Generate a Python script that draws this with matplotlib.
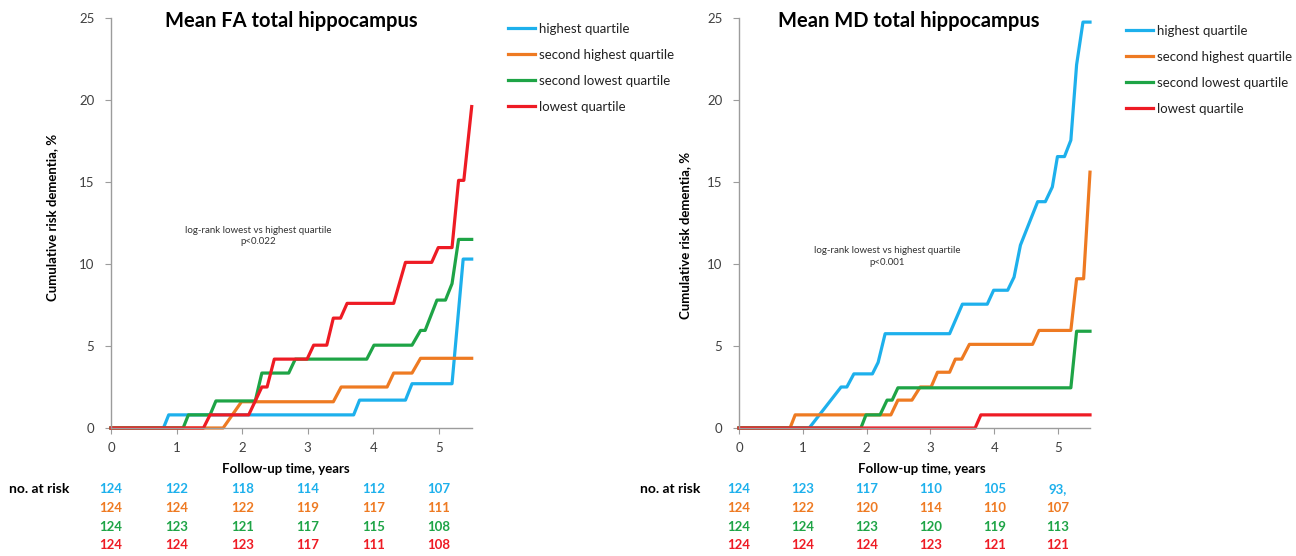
#!/usr/bin/env python3
"""Cumulative dementia risk by quartile of hippocampal FA / MD (two panels)."""

import matplotlib

matplotlib.use("Agg")
import matplotlib.pyplot as plt
from matplotlib import transforms
from matplotlib.lines import Line2D

W, H = 1296, 556
plt.rcParams["font.family"] = ["Lato", "DejaVu Sans"]

GROUPS = ["highest quartile", "second highest quartile", "second lowest quartile", "lowest quartile"]
COLORS = ["#1db0ec", "#ee7a22", "#1ea446", "#ee1b24"]

# --- Mean FA: follow-up time (years) / cumulative risk (%) per quartile
fa_highest_t = [0, 0.80, 0.88, 3.70, 3.79, 4.49, 4.59, 5.20, 5.37, 5.50]
fa_highest_y = [0, 0, 0.8, 0.8, 1.7, 1.7, 2.7, 2.7, 10.3, 10.3]
fa_second_high_t = [0, 1.71, 1.99, 3.39, 3.51, 4.21, 4.31, 4.59, 4.72, 5.50]
fa_second_high_y = [0, 0, 1.6, 1.6, 2.5, 2.5, 3.35, 3.35, 4.25, 4.25]
fa_second_low_t = [0, 1.10, 1.18, 1.51, 1.60, 2.20, 2.30, 2.71, 2.81, 3.90, 4.01,
                   4.59, 4.72, 4.79, 4.97, 5.10, 5.20, 5.30, 5.50]
fa_second_low_y = [0, 0, 0.8, 0.8, 1.65, 1.65, 3.35, 3.35, 4.2, 4.2, 5.05,
                   5.05, 5.95, 5.95, 7.8, 7.8, 8.8, 11.5, 11.5]
fa_lowest_t = [0, 1.41, 1.51, 2.10, 2.30, 2.38, 2.49, 2.99, 3.09, 3.29, 3.39,
               3.50, 3.60, 4.31, 4.49, 4.89, 4.99, 5.20, 5.30, 5.38, 5.50]
fa_lowest_y = [0, 0, 0.8, 0.8, 2.5, 2.5, 4.2, 4.2, 5.05, 5.05, 6.7,
               6.7, 7.6, 7.6, 10.1, 10.1, 11.0, 11.0, 15.1, 15.1, 19.6]

# --- Mean MD
md_highest_t = [0, 1.10, 1.60, 1.69, 1.80, 2.09, 2.18, 2.29, 3.30, 3.50, 3.89, 3.99,
                4.21, 4.31, 4.41, 4.68, 4.80, 4.91, 4.99, 5.10, 5.20, 5.29, 5.39, 5.50]
md_highest_y = [0, 0, 2.5, 2.5, 3.3, 3.3, 4.0, 5.75, 5.75, 7.55, 7.55, 8.4,
                8.4, 9.2, 11.15, 13.8, 13.8, 14.7, 16.55, 16.55, 17.55, 22.15, 24.75, 24.75]
md_second_high_t = [0, 0.80, 0.88, 2.38, 2.49, 2.71, 2.84, 3.01, 3.11, 3.30, 3.39,
                    3.49, 3.61, 4.60, 4.70, 5.20, 5.29, 5.40, 5.50]
md_second_high_y = [0, 0, 0.8, 0.8, 1.7, 1.7, 2.5, 2.5, 3.4, 3.4, 4.2,
                    4.2, 5.1, 5.1, 5.95, 5.95, 9.1, 9.1, 15.6]
md_second_low_t = [0, 1.91, 1.99, 2.21, 2.32, 2.40, 2.49, 5.20, 5.29, 5.50]
md_second_low_y = [0, 0, 0.8, 0.8, 1.7, 1.7, 2.45, 2.45, 5.9, 5.9]
md_lowest_t = [0, 3.70, 3.79, 5.50]
md_lowest_y = [0, 0, 0.8, 0.8]

# --- numbers at risk at years 0..5
YEARS = [0, 1, 2, 3, 4, 5]
fa_at_risk = [
    ["124", "122", "118", "114", "112", "107"],
    ["124", "124", "122", "119", "117", "111"],
    ["124", "123", "121", "117", "115", "108"],
    ["124", "124", "123", "117", "111", "108"],
]
md_at_risk = [
    ["124", "123", "117", "110", "105", "93,"],
    ["124", "122", "120", "114", "110", "107"],
    ["124", "124", "123", "120", "119", "113"],
    ["124", "124", "124", "123", "121", "121"],
]

PANELS = [
    {
        "title": "Mean FA total hippocampus",
        "curves": [(fa_highest_t, fa_highest_y), (fa_second_high_t, fa_second_high_y),
                   (fa_second_low_t, fa_second_low_y), (fa_lowest_t, fa_lowest_y)],
        "at_risk": fa_at_risk,
        "note": "log-rank lowest vs highest quartile\np<0.022",
        "note_xy": (2.25, 11.7),
        "rect_px": (111, 471.7),
        "title_px": (291, 21),
        "ylabel_px": (52, 217),
        "xlabel_px": (286, 469),
        "risk_label_px": 9,
        "legend_px": (508, 23),
    },
    {
        "title": "Mean MD total hippocampus",
        "curves": [(md_highest_t, md_highest_y), (md_second_high_t, md_second_high_y),
                   (md_second_low_t, md_second_low_y), (md_lowest_t, md_lowest_y)],
        "at_risk": md_at_risk,
        "note": "log-rank lowest vs highest quartile\np<0.001",
        "note_xy": (2.32, 10.45),
        "rect_px": (739, 1090),
        "title_px": (909, 21),
        "ylabel_px": (685, 235),
        "xlabel_px": (922, 469),
        "risk_label_px": 640,
        "legend_px": (1126, 25),
    },
]

RISK_ROWS_PX = [489.3, 508.3, 526.7, 545.3]


def fx(px):
    return px / W


def fy(py):
    return 1 - py / H


def draw_panel(fig, p):
    x0, x1 = p["rect_px"]
    ax = fig.add_axes([fx(x0), fy(428), (x1 - x0) / W, 410 / H])
    for (t, y), color in zip(p["curves"], COLORS):
        ax.plot(t, y, color=color, linewidth=2.3, clip_on=False)

    ax.set_xlim(0, 5.5)
    ax.set_ylim(0, 25)
    ax.set_xticks(YEARS)
    ax.set_yticks(range(0, 26, 5))
    for side in ("top", "right"):
        ax.spines[side].set_visible(False)
    for side in ("left", "bottom"):
        ax.spines[side].set_color("#9c9c9c")
        ax.spines[side].set_linewidth(1.0)
    ax.tick_params(direction="out", length=4, width=0.8, color="#9c9c9c",
                   labelsize=9.5, labelcolor="#404040")
    ax.tick_params(axis="x", pad=6)
    ax.tick_params(axis="y", pad=8)

    ax.text(*p["note_xy"], p["note"], ha="center", va="center", fontsize=7,
            color="#333333", linespacing=1.35)

    fig.text(fx(p["title_px"][0]), fy(p["title_px"][1]), p["title"], ha="center",
             va="center", fontsize=14.5, fontweight="bold")
    fig.text(fx(p["ylabel_px"][0]), fy(p["ylabel_px"][1]), "Cumulative risk dementia, %",
             rotation=90, ha="center", va="center", fontsize=9.5, fontweight="bold")
    fig.text(fx(p["xlabel_px"][0]), fy(p["xlabel_px"][1]), "Follow-up time, years",
             ha="center", va="center", fontsize=9.5, fontweight="bold")

    # numbers at risk table under the axis
    fig.text(fx(p["risk_label_px"]), fy(RISK_ROWS_PX[0]), "no. at risk", ha="left",
             va="center", fontsize=10, fontweight="bold")
    trans = transforms.blended_transform_factory(ax.transData, fig.transFigure)
    for row, color, ypx in zip(p["at_risk"], COLORS, RISK_ROWS_PX):
        for yr, val in zip(YEARS, row):
            fig.text(yr, fy(ypx), val, transform=trans, ha="center", va="center",
                     fontsize=9.5, fontweight="bold", color=color)

    handles = [Line2D([], [], color=c, linewidth=2.3) for c in COLORS]
    lx, ly = p["legend_px"]
    ax.legend(handles, GROUPS, loc="upper left", bbox_to_anchor=(fx(lx), fy(ly)),
              bbox_transform=fig.transFigure, frameon=False, fontsize=9.5,
              borderpad=0, borderaxespad=0, handlelength=2.05, handletextpad=0.3,
              labelspacing=1.05, labelcolor="#222222")
    return ax


def main():
    fig = plt.figure(figsize=(W / 100, H / 100), dpi=100)
    for p in PANELS:
        draw_panel(fig, p)
    fig.savefig("out.png", dpi=100)
    plt.close(fig)


if __name__ == "__main__":
    main()
